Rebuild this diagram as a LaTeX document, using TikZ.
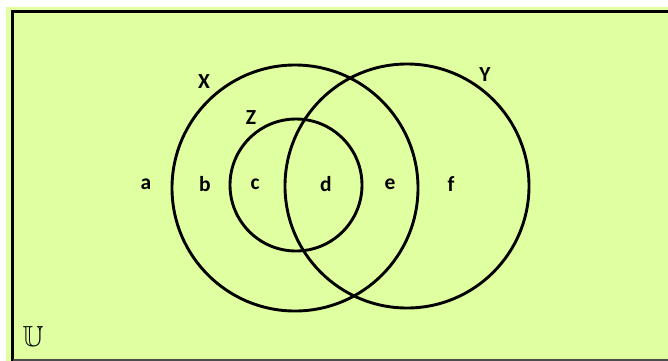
\documentclass[tikz,border=0pt]{standalone}
\usepackage{amssymb}
\usepackage{fontspec}
\setmainfont{Carlito}
\definecolor{bgreen}{RGB}{224,255,160}
\tikzset{
  ring/.style={draw=black, line width=2.9pt, fill=none},
  lbl/.style={font=\bfseries\fontsize{21.5}{21.5}\selectfont, inner sep=0pt, anchor=center}
}
\begin{document}
\begin{tikzpicture}[x=1pt,y=-1pt]
\useasboundingbox (0,0) rectangle (668,360);
\fill[white] (0,0) rectangle (668,360);
\fill[bgreen] (6,7) rectangle (680,370);
\draw[line width=3pt] (680,11.5) -- (12.5,11.5) -- (12.5,370);
\draw[line width=2pt, black!70] (12.5,359.5) -- (680,359.5);
\coordinate (cx) at (295,188);
\coordinate (cy) at (407,186);
\coordinate (cz) at (296,185);
\draw[ring] (cx) circle[radius=123];
\draw[ring] (cy) circle[radius=122];
\draw[ring] (cz) circle[radius=66];
\node[lbl] (X) at (204,81.5) {X};
\node[lbl] (Y) at (485,75) {Y};
\node[lbl] (Z) at (251,118) {Z};
\node[lbl] (a) at (146,184) {a};
\node[lbl] (b) at (205,184) {b};
\node[lbl] (c) at (255,184) {c};
\node[lbl] (d) at (326,184) {d};
\node[lbl] (e) at (390,184) {e};
\node[lbl] (f) at (451,184) {f};
\node[inner sep=0pt, font=\fontsize{29}{29}\selectfont] (U) at (33,336) {$\mathbb{U}$};
\end{tikzpicture}
\end{document}
